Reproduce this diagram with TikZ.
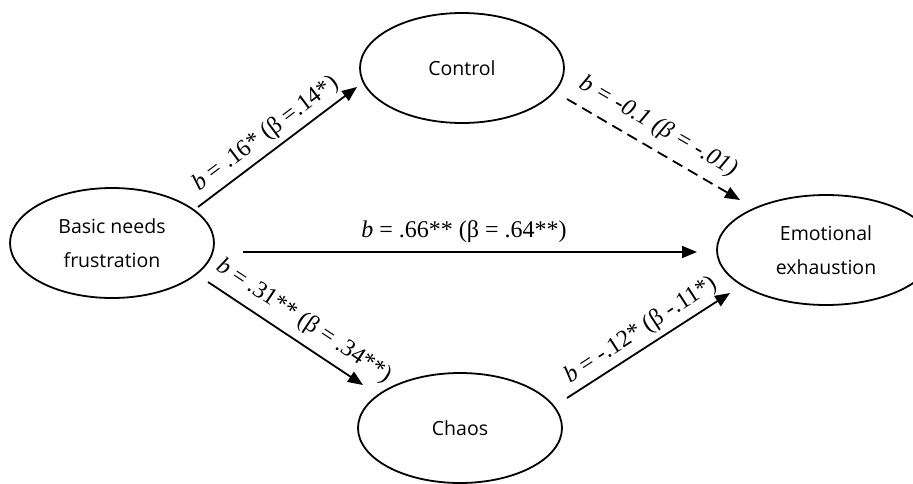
\documentclass[tikz,border=0pt]{standalone}
\usepackage{fontspec}
\setmainfont{Liberation Serif}
\newfontfamily\nodefont{Open Sans}
\usetikzlibrary{shapes.geometric,arrows.meta,calc}
\begin{document}
\begin{tikzpicture}[x=1pt,y=-1pt,
  var/.style={ellipse,draw,line width=1.8pt,inner sep=0pt,align=center,
    minimum width=204pt,minimum height=110pt,
    font=\nodefont\fontsize{19.5}{34}\selectfont},
  pathway/.style={line width=1.8pt,-{Triangle[length=15pt,width=12pt]}},
  nsdash/.style={dash pattern=on 11pt off 6.5pt},
  coef/.style={font=\fontsize{24}{28}\selectfont,inner sep=0pt}]
\useasboundingbox (0,0) rectangle (913,483);
\fill[white] (0,0) rectangle (913,483);
\node[var] (bnf) at (112,243) {Basic needs\\frustration};
\node[var] (ctrl) at (462,68) {Control};
\node[var] (chaos) at (460,428) {Chaos};
\node[var,minimum width=218pt] (ee) at (826,250) {Emotional\\exhaustion};

\draw[pathway] ($(bnf)+(86,-36)$) -- ($(ctrl)+(-105,19)$);
\draw[pathway,nsdash] ($(ctrl)+(105,31)$) -- ($(ee)+(-86,-50)$);
\draw[pathway] ($(bnf)+(131,9)$) -- ($(ee)+(-129,2)$);
\draw[pathway] ($(bnf)+(96,39)$) -- ($(chaos)+(-97,-43)$);
\draw[pathway] ($(chaos)+(107,-30)$) -- ($(ee)+(-96,43)$);

\node[coef,rotate=37] (l1) at (266,134) {\textit{b} = .16* (β =.14*)};
\node[coef,rotate=-30] (l2) at (658,127) {\textit{b = -0.1 (β = -.01)}};
\node[coef] (l3) at (464,232) {\textit{b} = .66** (β = .64**)};
\node[coef,rotate=-33.5] (l4) at (304,321) {\textit{b} = .31** (β = .34**)};
\node[coef,rotate=33] (l5) at (641,330) {\textit{b} = -.12* (β -.11*)};
\end{tikzpicture}
\end{document}
